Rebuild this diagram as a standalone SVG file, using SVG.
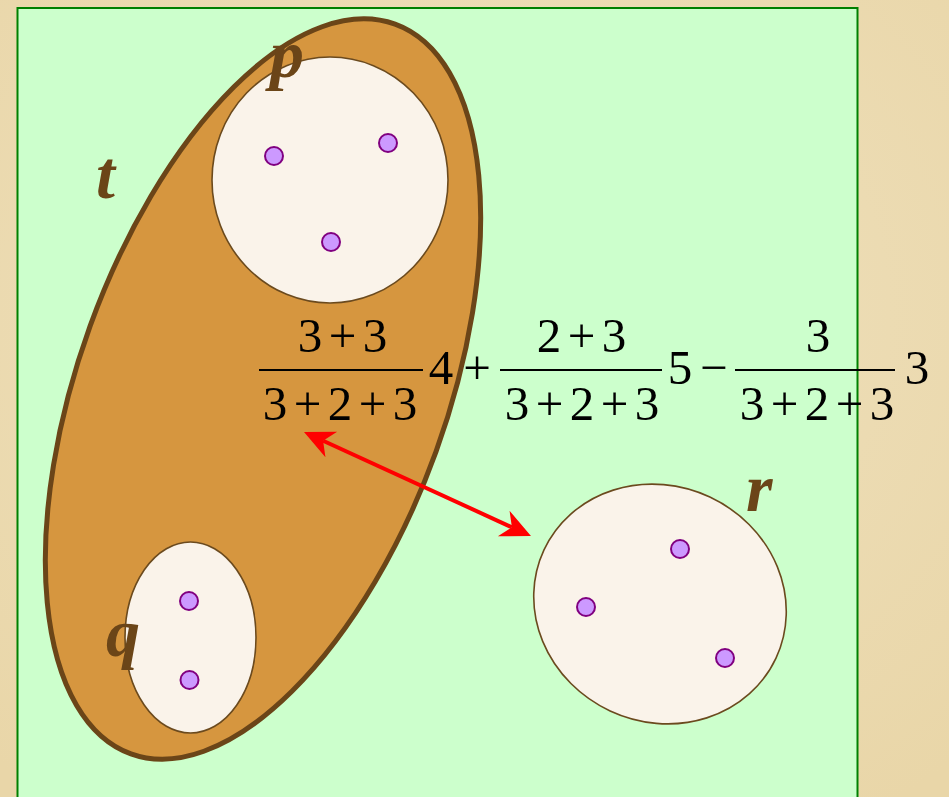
<svg xmlns="http://www.w3.org/2000/svg" width="949" height="797" viewBox="0 0 949 797">
  <style>
    .set { fill: #FAF3EA; stroke: #6B4A1E; stroke-width: 1.6; }
    .dot { fill: #CC99FF; stroke: #800080; stroke-width: 2; }
    .lbl { font-family: "Liberation Serif", "Times New Roman", serif; font-style: italic; font-weight: bold; font-size: 68px; fill: #6B4518; }
    .m { font-family: "Liberation Serif", "Times New Roman", serif; font-size: 49px; fill: #000; text-anchor: middle; }
    .bar { stroke: #000; stroke-width: 2; }
  </style>
  <defs>
    <radialGradient id="bgg" cx="50%" cy="40%" r="75%">
      <stop offset="0" stop-color="#F0E2C0"/>
      <stop offset="1" stop-color="#E9D6A8"/>
    </radialGradient>
    <marker id="ah" markerUnits="userSpaceOnUse" markerWidth="60" markerHeight="60" refX="0" refY="0" orient="auto-start-reverse" overflow="visible" viewBox="-30 -30 60 60">
      <path d="M21,0 L-9,-14 L0,0 L-9,14 Z" fill="#FF0000"/>
    </marker>
  </defs>

  <rect x="0" y="0" width="949" height="797" fill="url(#bgg)"/>
  <rect x="17.5" y="8" width="840" height="800" fill="#CCFFCC" stroke="#008000" stroke-width="2"/>

  <g id="t">
    <ellipse cx="263" cy="389" rx="388" ry="184" transform="rotate(-70.1 263 389)" fill="#D6963F" stroke="#6B4518" stroke-width="5"/>
    <text class="lbl" x="96" y="198">t</text>
  </g>

  <g id="p">
    <ellipse class="set" cx="330" cy="180" rx="118" ry="123"/>
    <circle class="dot" cx="274" cy="156" r="9"/>
    <circle class="dot" cx="388" cy="143" r="9"/>
    <circle class="dot" cx="331" cy="242" r="9"/>
    <text class="lbl" x="270" y="77">p</text>
  </g>

  <g id="q">
    <ellipse class="set" cx="190.5" cy="637.5" rx="65.5" ry="95.5"/>
    <circle class="dot" cx="189" cy="601" r="9"/>
    <circle class="dot" cx="189.5" cy="680" r="9"/>
    <text class="lbl" x="106" y="656">q</text>
  </g>

  <g id="r">
    <ellipse class="set" cx="660" cy="604" rx="128" ry="118" transform="rotate(25 660 604)"/>
    <circle class="dot" cx="680" cy="549" r="9"/>
    <circle class="dot" cx="586" cy="607" r="9"/>
    <circle class="dot" cx="725" cy="658" r="9"/>
    <text class="lbl" x="746" y="511">r</text>
  </g>

  <g id="formula">
    <text class="m" x="310 342.5 375" y="352">3+3</text>
    <line class="bar" x1="259" y1="370" x2="423" y2="370"/>
    <text class="m" x="275 307.5 340 372.5 405" y="420">3+2+3</text>
    <text class="m" x="441" y="384">4</text>
    <text class="m" x="477" y="384">+</text>
    <text class="m" x="549 581.5 614" y="352">2+3</text>
    <line class="bar" x1="500" y1="370" x2="662" y2="370"/>
    <text class="m" x="517 549.5 582 614.5 647" y="420">3+2+3</text>
    <text class="m" x="680" y="384">5</text>
    <text class="m" x="714" y="384">−</text>
    <text class="m" x="818" y="352">3</text>
    <line class="bar" x1="735" y1="370" x2="895" y2="370"/>
    <text class="m" x="752 784.5 817 849.5 882" y="420">3+2+3</text>
    <text class="m" x="917" y="384">3</text>
  </g>

  <g id="connectors">
    <line x1="323.1" y1="440.7" x2="511.9" y2="527.3" stroke="#FF0000" stroke-width="4" marker-start="url(#ah)" marker-end="url(#ah)"/>
  </g>
</svg>
